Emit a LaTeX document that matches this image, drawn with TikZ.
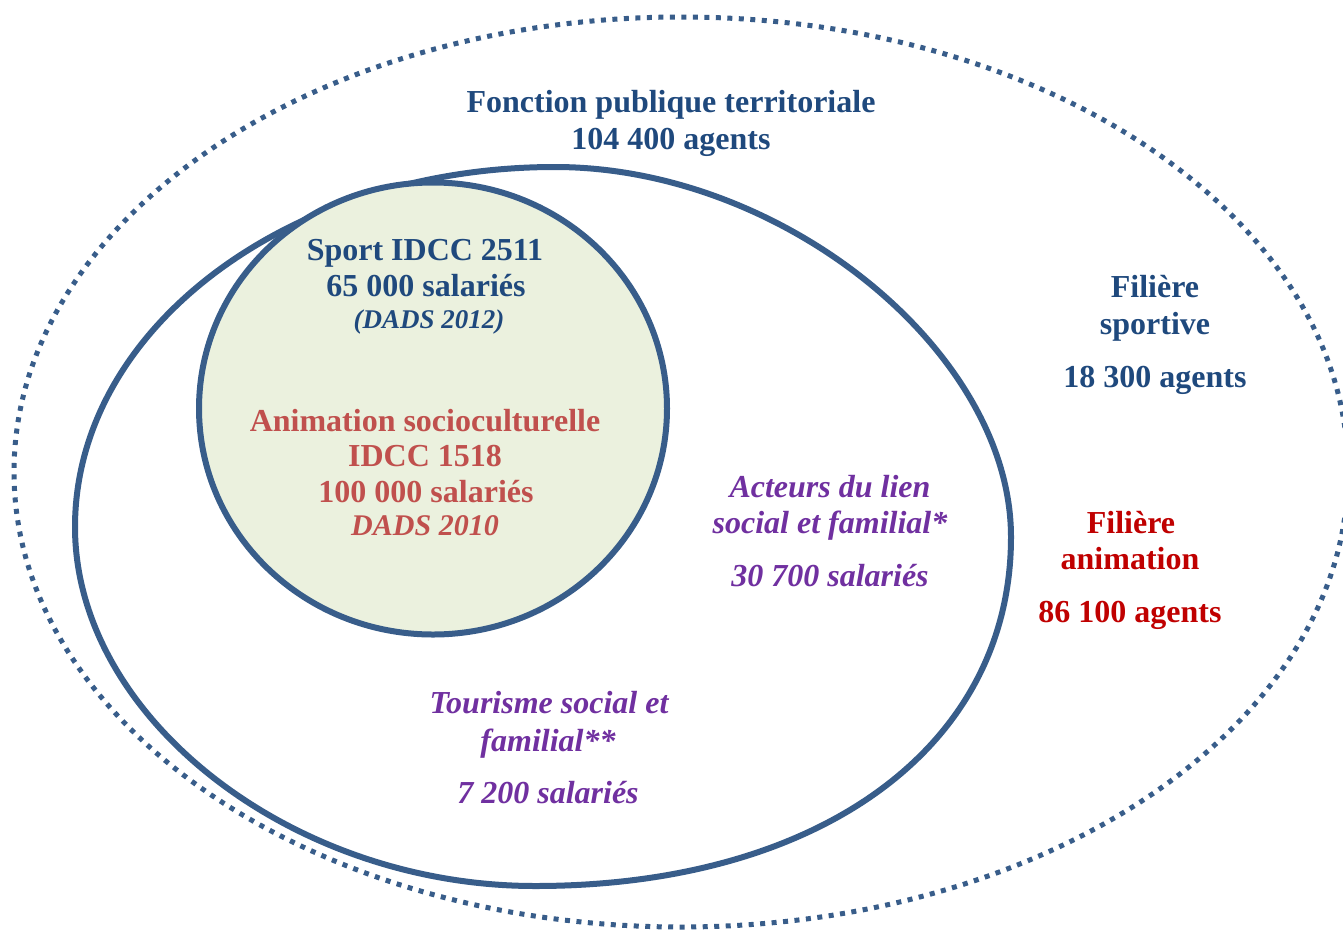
\documentclass[tikz,border=0pt]{standalone}
\usepackage{fontspec}
\setmainfont{Liberation Serif}
\definecolor{linec}{HTML}{385D8A}
\definecolor{bluet}{HTML}{1F497D}
\definecolor{redsoc}{HTML}{C0504D}
\definecolor{redani}{HTML}{C00000}
\definecolor{purp}{HTML}{7030A0}
\definecolor{greenf}{HTML}{EBF1DE}
\begin{document}
\begin{tikzpicture}[x=1pt,y=-1pt,
  solidline/.style={draw=linec,line width=6pt},
  dottedline/.style={draw=linec,line width=5pt,dash pattern=on 5pt off 6.5pt},
  lbl/.style={anchor=base,inner sep=0pt,font=\fontsize{32}{37}\selectfont\bfseries},
  lbli/.style={lbl,font=\fontsize{32}{37}\selectfont\bfseries\itshape},
  small/.style={anchor=base,inner sep=0pt,font=\fontsize{27}{31}\selectfont\bfseries\itshape},
  mid/.style={anchor=base,inner sep=0pt,font=\fontsize{30}{34}\selectfont\bfseries\itshape}]
\useasboundingbox[fill=white] (0,0) rectangle (1343,929);
% outer dotted ellipse
\draw[dottedline] (681,472) ellipse [x radius=667, y radius=455];
% big ellipse
\draw[solidline] (75,527) .. controls (75,328) and (290,167) .. (555,167)
  .. controls (783,167) and (1011,352) .. (1011,537)
  .. controls (1011,746) and (821,886) .. (535,886)
  .. controls (291,886) and (75,717) .. cycle;
% circle
\draw[solidline,fill=greenf] (433,408.5) ellipse [x radius=234, y radius=226];
% texts
\node[lbl,text=bluet] (fpt1) at (671,112) {Fonction publique territoriale};
\node[lbl,text=bluet] (fpt2) at (671,149) {104 400 agents};
\node[lbl,text=bluet] (sp1) at (425,260) {Sport IDCC 2511};
\node[lbl,text=bluet] (sp2) at (426,296) {65 000 salariés};
\node[small,text=bluet] (sp3) at (429,328) {(DADS 2012)};
\node[lbl,text=redsoc] (an1) at (425,431) {Animation socioculturelle};
\node[lbl,text=redsoc] (an2) at (425,466) {IDCC 1518};
\node[lbl,text=redsoc] (an3) at (426,502) {100 000 salariés};
\node[mid,text=redsoc] (an4) at (425,535) {DADS 2010};
\node[lbli,text=purp] (ac1) at (830,497) {Acteurs du lien};
\node[lbli,text=purp] (ac2) at (830,533) {social et familial*};
\node[lbli,text=purp] (ac3) at (830,586) {30 700 salariés};
\node[lbli,text=purp] (to1) at (549,713) {Tourisme social et};
\node[lbli,text=purp] (to2) at (548,751) {familial**};
\node[lbli,text=purp] (to3) at (548,803) {7 200 salariés};
\node[lbl,text=bluet] (fs1) at (1155,297) {Filière};
\node[lbl,text=bluet] (fs2) at (1155,334) {sportive};
\node[lbl,text=bluet] (fs3) at (1155,387) {18 300 agents};
\node[lbl,text=redani] (fa1) at (1131,533) {Filière};
\node[lbl,text=redani] (fa2) at (1130,569) {animation};
\node[lbl,text=redani] (fa3) at (1130,622) {86 100 agents};
\end{tikzpicture}
\end{document}
